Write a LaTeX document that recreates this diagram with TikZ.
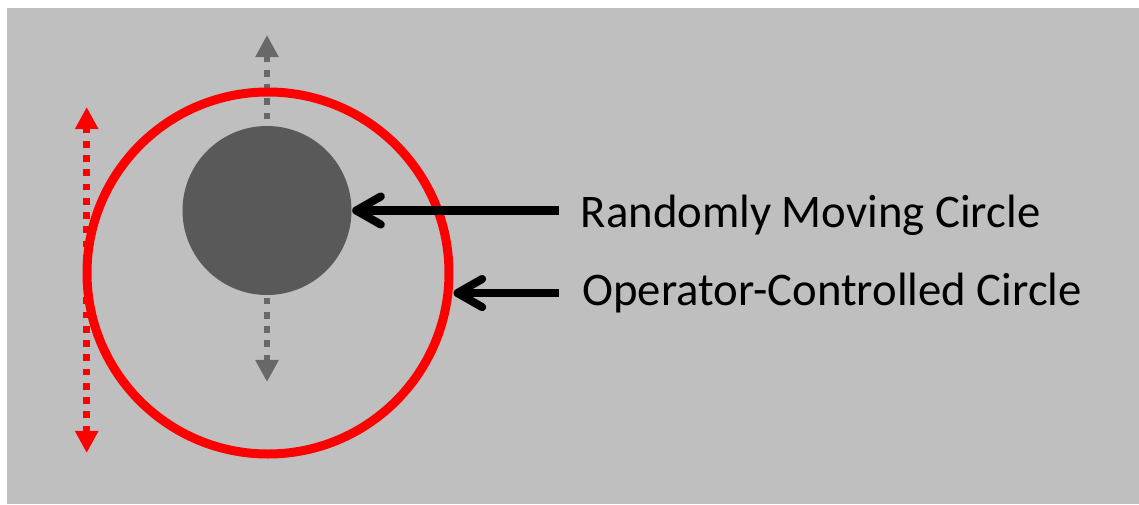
\documentclass[tikz,border=0pt]{standalone}
\usepackage{fontspec}
\setmainfont{Carlito}
\usetikzlibrary{arrows.meta}
\definecolor{bggray}{RGB}{191,191,191}
\definecolor{movegray}{RGB}{89,89,89}
\definecolor{dotgray}{RGB}{104,104,104}
\begin{document}
\begin{tikzpicture}[font=\fontsize{13.3}{16}\selectfont, line join=round,
	dotarrow/.style={line width=1.9pt, dash pattern=on 1.9pt off 2.15pt,
		{Triangle[length=6.3pt,width=6.3pt]}-{Triangle[length=6.3pt,width=6.3pt]}},
	pointer/.style={line width=2.3pt, -{Straight Barb[round,length=7pt,width=8pt]}},
	txt/.style={inner sep=0pt, anchor=base west}]
	\useasboundingbox (0,0) rectangle (11.39,5.04);
	\fill[bggray] (0.07,0) rectangle (11.39,4.96);
	\path 
	(2.67,4.69) coordinate (GT)
	(2.67,1.22) coordinate (GB)
	(0.867,3.97) coordinate (RT)
	(0.867,0.51) coordinate (RB)
	;
	\draw[dotarrow, dotgray] (GB)--(GT);
	\draw[dotarrow, red] (RB)--(RT);
	\node[circle, draw=red, line width=2.56pt, minimum size=3.62cm, inner sep=0pt] (OC) at (2.68,2.31) {};
	\node[circle, fill=movegray, minimum size=1.69cm, inner sep=0pt] (MC) at (2.67,2.935) {};
	\node[txt] (ML) at (5.80,2.77) {Randomly Moving Circle};
	\node[txt] (OL) at (5.817,1.985) {Operator-Controlled Circle};
	\draw[pointer, shorten <=6pt] (ML.west |- MC.east) -- (MC.east);
	\draw[pointer, shorten <=6.5pt] (OL.west) -- (OL.west -| OC.east);
\end{tikzpicture}
\end{document}
